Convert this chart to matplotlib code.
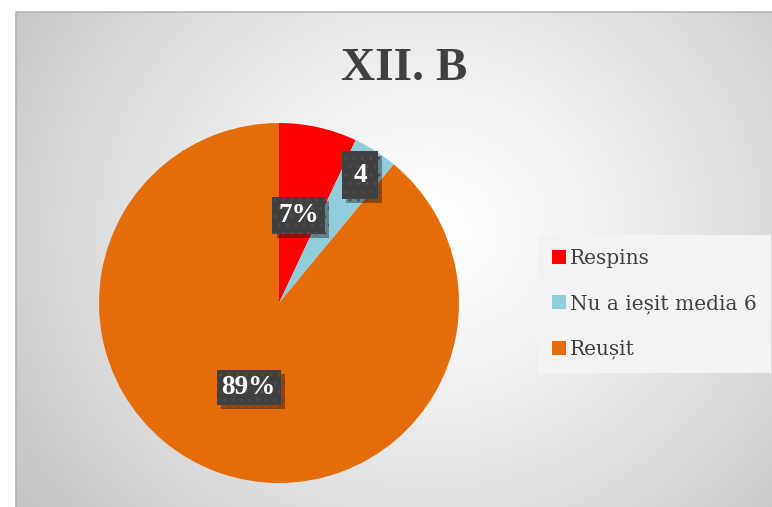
import numpy as np
import matplotlib
matplotlib.use("Agg")
import matplotlib.pyplot as plt
import matplotlib.patheffects as pe

# date
categorii = ["Respins", "Nu a ieșit media 6", "Reușit"]
valori = [7, 4, 89]
etichete = ["7%", "4", "89%"]
culori = ["#FF0000", "#92CDDC", "#E46C0A"]
titlu = "XII. B"

W, H = 772, 507
fig = plt.figure(figsize=(W / 100, H / 100), dpi=100)

# fundal cu gradient radial (zona graficului)
bg = fig.add_axes([0, 0, 1, 1], zorder=-10)
bg.set_xlim(0, W); bg.set_ylim(H, 0); bg.axis("off")
yy, xx = np.mgrid[0:H, 0:W]
d = np.hypot(xx - 430, (yy - 230) * 1.1) / 470
g = np.clip(1 - 0.21 * d ** 1.3, 0.76, 1)
img = np.dstack([g, g, g])
img[:12, :, :] = 1
img[:, :16, :] = 1
bg.imshow(img, extent=(0, W, H, 0), interpolation="bilinear")
bg.plot([16, 16, W], [H, 12, 12], color="#b4b4b4", lw=1.2)

# pie
ax = fig.add_axes([(279 - 180) / W, (H - 303 - 180) / H, 360 / W, 360 / H])
wedges, _ = ax.pie(valori, colors=culori, startangle=90, counterclock=False,
                   wedgeprops=dict(linewidth=0))
ax.set_xlim(-1, 1); ax.set_ylim(-1, 1); ax.set_aspect("equal")

# etichete cu umbra
dist = [0.5, 0.84, 0.5]
pads = [0.22, 0.42, 0.18]
for w, et, r, p in zip(wedges, etichete, dist, pads):
    a = np.deg2rad((w.theta1 + w.theta2) / 2)
    t = ax.text(r * np.cos(a), r * np.sin(a), et, ha="center", va="center",
                color="white", fontsize=19.5, fontweight="bold",
                family="Liberation Serif",
                bbox=dict(boxstyle=f"square,pad={p}", fc="#404040", ec="#4d4d4d",
                          lw=0, hatch=".."))
    t.get_bbox_patch().set_path_effects(
        [pe.SimplePatchShadow(offset=(3, -3), shadow_rgbFace="black", alpha=0.35),
         pe.Normal()])

fig.text(404 / W, 1 - 80 / H, titlu, ha="center", va="baseline",
         fontsize=34, fontweight="bold", family="Liberation Serif", color="#404040")

# legenda
leg = fig.legend(wedges, categorii, loc="center left",
                 bbox_to_anchor=(538 / W, 1 - 304 / H), frameon=True,
                 prop=dict(family="DejaVu Serif", size=14.5),
                 handlelength=0.7, handleheight=0.7, handletextpad=0.2,
                 labelspacing=1.3, borderpad=0.7, borderaxespad=0,
                 fancybox=False)
leg.get_frame().set_facecolor("#f3f3f3")
leg.get_frame().set_edgecolor("none")
leg.get_frame().set_alpha(1)
for t in leg.get_texts():
    t.set_color("#404040")

fig.savefig("out.png", dpi=100)
